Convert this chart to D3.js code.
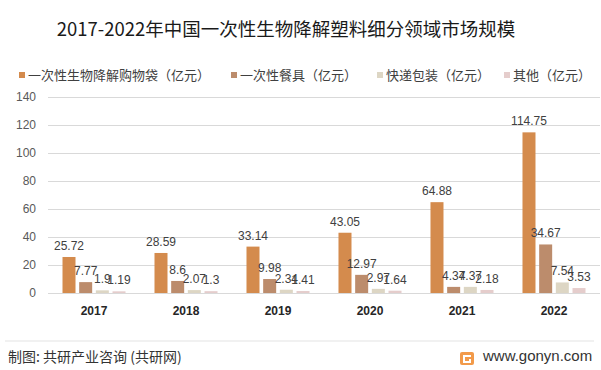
<!DOCTYPE html>
<html>
<head>
<meta charset="utf-8">
<title>2017-2022 biodegradable plastics</title>
<style>
  body { margin: 0; background: #fff; }
  text { font-family: "Noto Sans CJK SC", "Liberation Sans", sans-serif; }
</style>
</head>
<body>
<script src="https://d3js.org/d3.v7.min.js"></script>
<script>
// data
const years = ["2017", "2018", "2019", "2020", "2021", "2022"];
const seriesNames = ["一次性生物降解购物袋（亿元）", "一次性餐具（亿元）", "快递包装（亿元）", "其他（亿元）"];
const bags = [25.72, 28.59, 33.14, 43.05, 64.88, 114.75];
const tableware = [7.77, 8.6, 9.98, 12.97, 4.37, 34.67];
const express = [1.9, 2.07, 2.34, 2.97, 4.37, 7.54];
const other = [1.19, 1.3, 1.41, 1.64, 2.18, 3.53];
const yTicks = [0, 20, 40, 60, 80, 100, 120, 140];

const colors = ["#d48b4d", "#bc8c6c", "#ddd6c4", "#e5cdcc"];
const allSeries = [bags, tableware, express, other];

let W = 601, H = 370;
let svg = d3.select("body").append("svg").attr("width", W).attr("height", H);

let x0 = d3.scaleBand().domain(years).range([48, 600]).paddingInner(0.315).paddingOuter(0.1576);
let x1 = d3.scaleBand().domain(d3.range(4)).range([0, x0.bandwidth()]).paddingInner(0.22);
let y = d3.scaleLinear().domain([0, 140]).range([293, 97]);

// title
svg.append("text")
    .attr("x", 286).attr("y", 36)
    .attr("text-anchor", "middle")
    .style("font-size", "18.5px")
    .style("fill", "#1a1a1a")
    .text("2017-2022年中国一次性生物降解塑料细分领域市场规模");

// legend
let legendX = [19, 231, 377, 504];
let lg = svg.append("g").selectAll("g")
    .data(seriesNames)
    .enter().append("g")
    .attr("transform", function(d, i) { return "translate(" + legendX[i] + ",72)"; });
lg.append("rect").attr("width", 6).attr("height", 6).attr("y", 0)
    .style("fill", function(d, i) { return colors[i]; });
lg.append("text").attr("x", 9).attr("y", 8)
    .style("font-size", "13px").style("fill", "#404040")
    .text(function(d) { return d; });

// grid + y labels
let yAxis = d3.axisLeft(y).tickValues(yTicks).tickSize(-552).tickPadding(12);
let ga = svg.append("g").attr("transform", "translate(48,0)").call(yAxis);
ga.select(".domain").remove();
ga.selectAll(".tick line").attr("stroke", "#d9d9d9");
ga.selectAll(".tick text")
    .attr("x", -12)
    .style("font-family", "'Liberation Sans', sans-serif")
    .style("font-size", "12px").style("fill", "#595959");

// x labels
let xAxis = d3.axisBottom(x0).tickSize(0).tickPadding(13);
let gx = svg.append("g").attr("transform", "translate(0,293)").call(xAxis);
gx.select(".domain").remove();
gx.selectAll(".tick text")
    .style("font-family", "'Liberation Sans', sans-serif")
    .style("font-size", "12px").style("font-weight", "bold").style("fill", "#262626");

// bars
let groups = svg.append("g").selectAll("g")
    .data(years)
    .enter().append("g")
    .attr("transform", function(d) { return "translate(" + x0(d) + ",0)"; });

groups.selectAll("rect")
    .data(function(d, yi) { return allSeries.map(function(s, si) { return { si: si, v: s[yi] }; }); })
    .enter().append("rect")
    .attr("x", function(d) { return x1(d.si); })
    .attr("width", x1.bandwidth())
    .attr("y", function(d) { return y(d.v); })
    .attr("height", function(d) { return y(0) - y(d.v); })
    .style("fill", function(d) { return colors[d.si]; });

groups.selectAll("text.val")
    .data(function(d, yi) { return allSeries.map(function(s, si) { return { si: si, v: s[yi] }; }); })
    .enter().append("text")
    .attr("class", "val")
    .attr("x", function(d) { return x1(d.si) + x1.bandwidth() / 2; })
    .attr("y", function(d) { return y(d.v) - 7; })
    .attr("text-anchor", "middle")
    .style("font-family", "'Liberation Sans', sans-serif")
    .style("font-size", "12px").style("fill", "#404040")
    .text(function(d) { return d.v; });

// footer
svg.append("line").attr("x1", 5).attr("x2", 594).attr("y1", 341).attr("y2", 341)
    .attr("stroke", "#e3e3e3");
svg.append("text").attr("x", 8).attr("y", 362)
    .style("font-size", "14px").style("fill", "#333")
    .text("制图: 共研产业咨询 (共研网)");
let icon = svg.append("g").attr("transform", "translate(460,352)");
icon.append("rect").attr("width", 14).attr("height", 13).attr("rx", 2).style("fill", "#f29a4a");
icon.append("path").attr("d", "M3,3 H11 V5 H5 V9 H9 V7 H11 V11 H3 Z").style("fill", "#fff");
svg.append("text").attr("x", 483).attr("y", 361)
    .style("font-family", "'Liberation Sans', sans-serif")
    .style("font-size", "15px").style("fill", "#333")
    .text("www.gonyn.com");
</script>
</body>
</html>
